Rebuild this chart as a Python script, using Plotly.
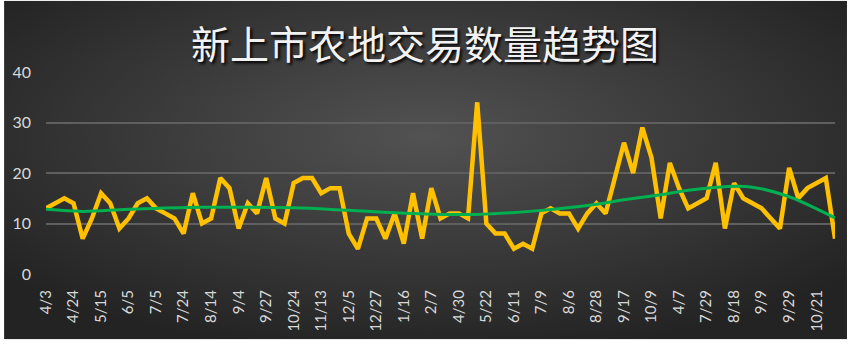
import base64
import numpy as np
import plotly.graph_objects as go

# ---- data ----
title_text = "新上市农地交易数量趋势图"
values = [13, 14, 15, 14, 7, 11, 16, 14, 9, 11,
          14, 15, 13, 12, 11, 8, 16, 10, 11, 19,
          17, 9, 14, 12, 19, 11, 10, 18, 19, 19,
          16, 17, 17, 8, 5, 11, 11, 7, 12, 6,
          16, 7, 17, 11, 12, 12, 11, 34, 10, 8,
          8, 5, 6, 5, 12, 13, 12, 12, 9, 12,
          14, 12, 19, 26, 20, 29, 23, 11, 22, 17,
          13, 14, 15, 22, 9, 18, 15, 14, 13, 11,
          9, 21, 15, 17, 18, 19, 7]
tick_labels = ["4/3", "4/24", "5/15", "6/5", "7/5", "7/24", "8/14", "9/4", "9/27",
               "10/24", "11/13", "12/5", "12/27", "1/16", "2/7", "4/30", "5/22",
               "6/11", "7/9", "8/6", "8/28", "9/17", "10/9", "4/7", "7/29", "8/18",
               "9/9", "9/29", "10/21"]
label_step = 3
y_ticks = [0, 10, 20, 30, 40]
# trendline (position index, value)
trend_idx = [0, 4, 9, 17, 27, 33, 40, 47, 54, 60, 63, 67, 70, 74, 77, 81, 84, 86]
trend_val = [12.8, 12.4, 12.8, 13.2, 13.1, 12.6, 12.0, 11.8, 12.6, 13.8,
             14.7, 15.7, 16.6, 17.3, 17.2, 15.3, 12.9, 11.1]

x = list(range(len(values)))
tick_pos = list(range(0, len(tick_labels) * label_step, label_step))

# ---- figure ----
W, H = 850, 344
ml, mr, mt, mb = 45, 15, 72, 68
pw, ph = W - ml - mr, H - mt - mb

svg = f'''<svg xmlns="http://www.w3.org/2000/svg" width="{W}" height="{H}">
<defs><radialGradient id="g" cx="50%" cy="40%" r="65%">
<stop offset="0%" stop-color="#525252"/><stop offset="100%" stop-color="#232323"/>
</radialGradient></defs>
<rect width="100%" height="100%" fill="url(#g)"/></svg>'''
src = "data:image/svg+xml;base64," + base64.b64encode(svg.encode()).decode()

x0px, x1px, y0px, y1px = 3, 847, 0, 342
img = dict(source=src, xref="paper", yref="paper",
           x=(x0px - ml) / pw, y=(H - mb - y0px) / ph,
           sizex=(x1px - x0px) / pw, sizey=(y1px - y0px) / ph,
           xanchor="left", yanchor="top", sizing="stretch", layer="below")

fig = go.Figure()
fig.add_trace(go.Scatter(x=x, y=values, mode="lines",
                         line=dict(color="#FFC000", width=4.5), hoverinfo="skip"))
fig.add_trace(go.Scatter(x=trend_idx, y=trend_val, mode="lines",
                         line=dict(color="#00B050", width=3, shape="spline",
                                   smoothing=1.0),
                         hoverinfo="skip"))

fig.update_layout(
    width=W, height=H,
    margin=dict(l=ml, r=mr, t=mt, b=mb),
    paper_bgcolor="white", plot_bgcolor="rgba(0,0,0,0)",
    showlegend=False,
    images=[img],
    title=dict(text=title_text, x=0.5, xref="container", xanchor="center",
               y=1 - 45 / H, yref="container", yanchor="middle",
               font=dict(family="Noto Sans CJK SC", size=39, color="#f2f2f2",
                         shadow="2px 2px 3px #000000")),
    xaxis=dict(range=[0, len(values) - 1], showgrid=False, zeroline=False,
               tickmode="array", tickvals=tick_pos, ticktext=tick_labels,
               tickangle=-90, ticks="", showline=False,
               tickfont=dict(family="Lato", size=15, color="#d9d9d9"),
               ticklabelstandoff=12),
    yaxis=dict(range=[0, 40], tickmode="array", tickvals=y_ticks,
               showgrid=True, gridcolor="#5f5f5f", gridwidth=1.5,
               zeroline=False, showline=False, ticks="",
               tickfont=dict(family="Lato", size=16, color="#d9d9d9"),
               ticklabelstandoff=14),
)

fig.write_html("out.html")
